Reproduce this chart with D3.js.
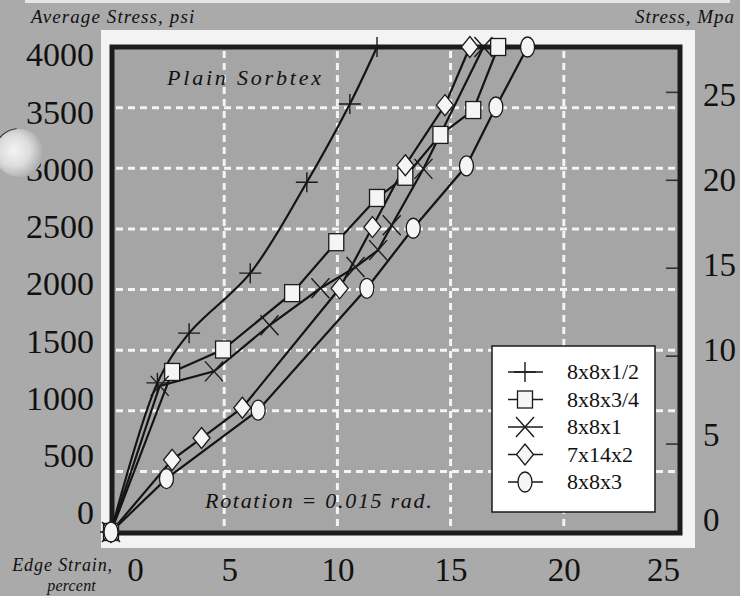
<!DOCTYPE html>
<html>
<head>
<meta charset="utf-8">
<script src="https://cdn.jsdelivr.net/npm/d3@7"></script>
<style>
  body { margin: 0; background: #aaaaaa; }
  svg { display: block; }
</style>
</head>
<body>
<div id="chart"></div>
<script>
// values
const seriesNames = ['8x8x1/2', '8x8x3/4', '8x8x1', '7x14x2', '8x8x3'];
const seriesSymbols = ['plus', 'square', 'cross', 'diamond', 'circle'];

const strainHalf = [0, 2.05, 3.45, 6.15, 8.65, 10.55, 11.75];
const stressHalf = [0, 1230, 1640, 2135, 2885, 3530, 4000];

const strainThreeQuarter = [0, 2.7, 4.95, 8.0, 9.95, 11.75, 13.0, 14.55, 16.0, 17.1];
const stressThreeQuarter = [0, 1320, 1505, 1970, 2390, 2755, 2930, 3275, 3480, 4000];

const strainOne = [0, 2.15, 4.55, 7.0, 9.25, 10.8, 11.8, 12.4, 13.8, 16.45];
const stressOne = [0, 1205, 1325, 1705, 2010, 2185, 2325, 2530, 2995, 4000];

const strainSeven = [0, 2.7, 4.0, 5.8, 10.1, 11.55, 13.0, 14.75, 15.85];
const stressSeven = [0, 595, 775, 1025, 2010, 2515, 3025, 3520, 4000];

const strainThree = [0, 2.45, 6.5, 11.3, 13.35, 15.7, 17.0, 18.4];
const stressThree = [0, 440, 1005, 2010, 2505, 3020, 3505, 4000];

const xTicks = [0, 5, 10, 15, 20, 25];
const psiTicks = [0, 500, 1000, 1500, 2000, 2500, 3000, 3500, 4000];
const mpaTicks = [0, 5, 10, 15, 20, 25];
const psiPerMpa = 145.04;

const strains = [strainHalf, strainThreeQuarter, strainOne, strainSeven, strainThree];
const stresses = [stressHalf, stressThreeQuarter, stressOne, stressSeven, stressThree];

const series = seriesNames.map((name, i) => ({
  name: name,
  symbol: seriesSymbols[i],
  points: strains[i].map((s, j) => ({ x: s, y: stresses[i][j] }))
}));

const W = 740, H = 596;
const frame = { left: 112, right: 680, top: 47, bottom: 533 };

const x = d3.scaleLinear().domain([0, 25]).range([111, 677]);
const y = d3.scaleLinear().domain([0, 4000]).range([532, 47]);
const yMpa = d3.scaleLinear().domain([0, 4000 / psiPerMpa]).range([532, 47]);
// printed labels in the scan sit a little off the grid
const yLabel = d3.scaleLinear().domain([0, 4000]).range([513, 55]);
const mpaLabel = d3.scaleLinear().domain([0, 25]).range([520, 95]);

const serif = '"Liberation Serif", "Times New Roman", serif';

const svg = d3.select('#chart').append('svg')
  .attr('width', W)
  .attr('height', H);

svg.append('rect').attr('width', W).attr('height', H).attr('fill', '#aaaaaa');
// light top edge of the scanned page
svg.append('rect').attr('x', 25).attr('y', 0).attr('width', 705).attr('height', 3).attr('fill', '#e6e6e6');

// white mat around the plot
svg.append('rect')
  .attr('x', 101).attr('y', 30)
  .attr('width', 594).attr('height', 518)
  .attr('fill', '#f3f3f3');

svg.append('rect')
  .attr('x', frame.left).attr('y', frame.top)
  .attr('width', frame.right - frame.left).attr('height', frame.bottom - frame.top)
  .attr('fill', '#a5a5a5');

// dashed white grid
const grid = svg.append('g').attr('stroke', '#f4f4f4').attr('stroke-width', 3).attr('stroke-dasharray', '7,5');
grid.selectAll('line.v')
  .data(xTicks.filter(d => d > 0 && d < 25))
  .enter().append('line')
  .attr('class', 'v')
  .attr('x1', d => x(d)).attr('x2', d => x(d))
  .attr('y1', frame.top + 4).attr('y2', frame.bottom - 3);
grid.selectAll('line.h')
  .data(psiTicks.filter(d => d > 0 && d < 4000))
  .enter().append('line')
  .attr('class', 'h')
  .attr('x1', frame.left + 4).attr('x2', frame.right - 3)
  .attr('y1', d => y(d)).attr('y2', d => y(d));

// inward tick marks of the MPa axis
svg.append('g').selectAll('line')
  .data(mpaTicks.filter(d => d > 0))
  .enter().append('line')
  .attr('x1', frame.right - 14).attr('x2', frame.right)
  .attr('y1', d => yMpa(d)).attr('y2', d => yMpa(d))
  .attr('stroke', '#333').attr('stroke-width', 1.6);

// plot border
svg.append('rect')
  .attr('x', frame.left).attr('y', frame.top)
  .attr('width', frame.right - frame.left).attr('height', frame.bottom - frame.top)
  .attr('fill', 'none')
  .attr('stroke', '#1c1c1c')
  .attr('stroke-width', 5);

// marker shapes
function addMarker(g, type) {
  if (type === 'plus') {
    g.append('path').attr('d', 'M-11,0H11M0,-10V10').attr('fill', 'none').attr('stroke', '#1a1a1a').attr('stroke-width', 1.4);
  } else if (type === 'cross') {
    g.append('path').attr('d', 'M-9,-10L9,10M-9,10L9,-10').attr('fill', 'none').attr('stroke', '#1a1a1a').attr('stroke-width', 1.4);
  } else if (type === 'square') {
    g.append('rect').attr('x', -7.5).attr('y', -8.5).attr('width', 15).attr('height', 17)
      .attr('fill', '#f5f5f5').attr('stroke', '#1a1a1a').attr('stroke-width', 1.3);
  } else if (type === 'diamond') {
    g.append('path').attr('d', 'M0,-10.5L8.5,0L0,10.5L-8.5,0Z')
      .attr('fill', '#f5f5f5').attr('stroke', '#1a1a1a').attr('stroke-width', 1.3);
  } else {
    g.append('ellipse').attr('rx', 7).attr('ry', 10)
      .attr('fill', '#f5f5f5').attr('stroke', '#1a1a1a').attr('stroke-width', 1.3);
  }
}

const line = d3.line().x(d => x(d.x)).y(d => y(d.y));
const curved = d3.line().x(d => x(d.x)).y(d => y(d.y)).curve(d3.curveCatmullRom.alpha(0.5));

svg.append('g').selectAll('path')
  .data(series)
  .enter().append('path')
  .attr('d', d => (d.symbol === 'plus' ? curved : line)(d.points))
  .attr('fill', 'none')
  .attr('stroke', '#141414')
  .attr('stroke-width', 2.2);

series.forEach(s => {
  svg.append('g').selectAll('g')
    .data(s.points)
    .enter().append('g')
    .attr('transform', d => `translate(${x(d.x)},${y(d.y)})`)
    .each(function () { addMarker(d3.select(this), s.symbol); });
});

// axes (labels only, as printed)
function styleAxis(g) {
  g.select('.domain').remove();
  g.selectAll('.tick line').remove();
  g.selectAll('text').attr('font-family', serif).attr('fill', '#111');
}

svg.append('g')
  .attr('transform', 'translate(94,0)')
  .call(d3.axisLeft(yLabel).tickValues(psiTicks).tickSize(0).tickPadding(0).tickFormat(d3.format('d')))
  .call(styleAxis)
  .selectAll('text').attr('font-size', 34);

svg.append('g')
  .attr('transform', 'translate(703,0)')
  .call(d3.axisRight(mpaLabel).tickValues(mpaTicks).tickSize(0).tickPadding(0))
  .call(styleAxis)
  .selectAll('text').attr('font-size', 33);

svg.append('g')
  .attr('transform', 'translate(0,558)')
  .call(d3.axisBottom(x).tickValues(xTicks).tickSize(0).tickPadding(0))
  .call(styleAxis)
  .selectAll('text')
  .attr('font-size', 33)
  .attr('dx', d => d === 0 ? 24 : d === 5 ? 5 : d === 25 ? -14 : 0);

// titles
function label(txt, px, py, size, anchor, spacing) {
  return svg.append('text')
    .attr('x', px).attr('y', py)
    .attr('font-family', serif)
    .attr('font-style', 'italic')
    .attr('font-size', size)
    .attr('text-anchor', anchor || 'start')
    .attr('letter-spacing', spacing || 0)
    .attr('fill', '#111')
    .text(txt);
}
label('Average Stress, psi', 31, 23, 19, 'start', 1.1);
label('Stress, Mpa', 735, 23, 19, 'end', 1);
label('Edge Strain,', 113, 571, 18, 'end', 0.9);
label('percent', 96, 591, 16, 'end', 0.2);
label('Plain Sorbtex', 167, 85, 22, 'start', 2.8);
label('Rotation = 0.015 rad.', 205, 508, 22, 'start', 1.7);

// legend
const legend = svg.append('g').attr('transform', 'translate(492,346)');
legend.append('rect')
  .attr('width', 163).attr('height', 166)
  .attr('fill', '#ffffff')
  .attr('stroke', '#1a1a1a')
  .attr('stroke-width', 1.5);
const rows = legend.selectAll('g.row')
  .data(series)
  .enter().append('g')
  .attr('class', 'row')
  .attr('transform', (d, i) => `translate(33,${26 + i * 27.5})`);
rows.append('line')
  .attr('x1', -17).attr('x2', 18)
  .attr('stroke', '#1a1a1a').attr('stroke-width', 1.3);
rows.each(function (d) { addMarker(d3.select(this), d.symbol); });
rows.append('text')
  .attr('x', 42).attr('y', 7)
  .attr('font-family', serif)
  .attr('font-size', 22)
  .attr('fill', '#111')
  .text(d => d.name);

// binder hole reflection at the left edge of the scan
const defs = svg.append('defs');
const grad = defs.append('radialGradient').attr('id', 'hole').attr('cx', '40%').attr('cy', '45%').attr('r', '60%');
grad.append('stop').attr('offset', '0%').attr('stop-color', '#f4f4f4');
grad.append('stop').attr('offset', '55%').attr('stop-color', '#dcdcdc');
grad.append('stop').attr('offset', '100%').attr('stop-color', '#ababab');
svg.append('circle').attr('cx', 19).attr('cy', 153).attr('r', 24).attr('fill', 'url(#hole)');
svg.append('path')
  .attr('d', d3.arc()({ innerRadius: 24, outerRadius: 25, startAngle: -1.75, endAngle: -0.1 }))
  .attr('transform', 'translate(19,153)')
  .attr('fill', '#222');
</script>
</body>
</html>
